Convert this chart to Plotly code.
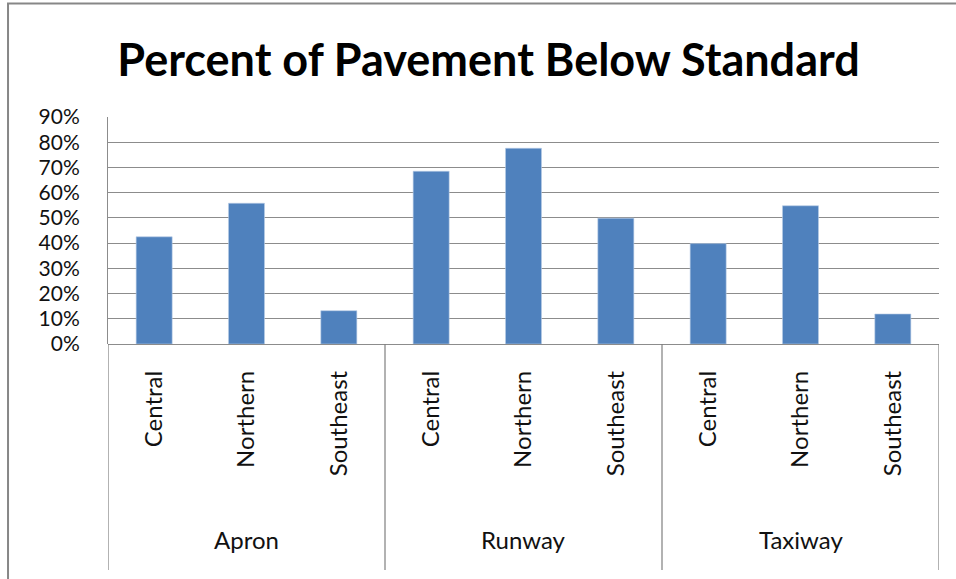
import plotly.graph_objects as go

# data
groups = ["Apron", "Apron", "Apron",
          "Runway", "Runway", "Runway",
          "Taxiway", "Taxiway", "Taxiway"]
regions = ["Central", "Northern", "Southeast"] * 3
pct_below = [0.425, 0.558, 0.132,
             0.685, 0.776, 0.499,
             0.398, 0.548, 0.119]

y_ticks = [0, 0.1, 0.2, 0.3, 0.4, 0.5, 0.6, 0.7, 0.8, 0.9]

GRID = "#8c8c8c"
FONT = "Lato, Calibri, 'Open Sans', sans-serif"

positions = list(range(len(regions)))

fig = go.Figure(go.Bar(
    x=positions,
    y=pct_below,
    marker=dict(color="#4f81bd", line=dict(color="#b9cde5", width=0.6)),
    width=0.39,
))

# group labels centred under their bars, dividers between groups
group_names = list(dict.fromkeys(groups))
bounds = [-0.5]
for name in group_names:
    idx = [i for i, g in enumerate(groups) if g == name]
    fig.add_annotation(
        x=sum(idx) / len(idx), y=-0.862, xref="x", yref="paper",
        text=name, showarrow=False, yanchor="middle",
        font=dict(size=24, color="#111"),
    )
    bounds.append(idx[-1] + 0.5)

for b in bounds:
    fig.add_shape(type="line", xref="x", yref="paper",
                  x0=b, x1=b, y0=0, y1=-0.996,
                  line=dict(color="#7f7f7f", width=1.2))

fig.update_layout(
    width=956,
    height=579,
    paper_bgcolor="white",
    plot_bgcolor="white",
    font=dict(family=FONT, size=20, color="#111"),
    margin=dict(l=108, r=17, t=117, b=235),
    showlegend=False,
    title=dict(
        text="<b>Percent of Pavement Below Standard</b>",
        font=dict(family=FONT, size=45, color="black"),
        x=0.511, xanchor="center",
        y=0.896, yanchor="middle",
    ),
    xaxis=dict(
        range=[-0.5, len(regions) - 0.5],
        tickvals=positions,
        ticktext=regions,
        tickangle=-90,
        showgrid=False,
        showline=False,
        zeroline=False,
        ticks="",
        ticklabelstandoff=21,
        tickfont=dict(size=24),
    ),
    yaxis=dict(
        range=[0, 0.9],
        tickvals=y_ticks,
        tickformat=".0%",
        showgrid=True,
        gridcolor=GRID,
        gridwidth=1,
        showline=True,
        linecolor=GRID,
        linewidth=1,
        zeroline=True,
        zerolinecolor=GRID,
        zerolinewidth=1,
        ticks="",
        ticklabelstandoff=23,
        tickfont=dict(size=21),
    ),
)

# outer chart border (only the left and top edges fall inside the view)
fig.add_shape(type="rect", xref="paper", yref="paper",
              x0=-0.1203, x1=1.1, y0=-1.2, y1=1.5,
              line=dict(color="#878787", width=2), layer="below")

fig.write_html("out.html", config={"displayModeBar": False},
               post_script="document.body.style.margin='0';")
